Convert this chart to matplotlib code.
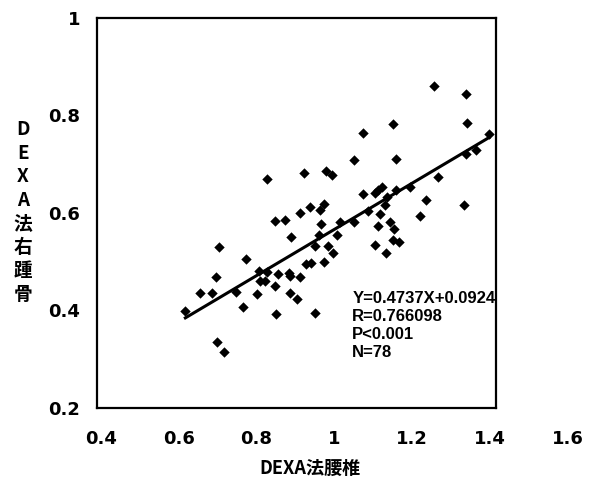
import matplotlib
matplotlib.use("Agg")
import matplotlib.pyplot as plt
import numpy as np

# DEXA lumbar spine (x) vs DEXA right calcaneus (y)
lumbar = [0.617, 0.655, 0.685, 0.695, 0.703, 0.699, 0.715, 0.747, 0.765, 0.774,
          0.801, 0.806, 0.826, 0.808, 0.821, 0.827, 0.846, 0.848, 0.849, 0.855,
          0.874, 0.883, 0.887, 0.888, 0.885, 0.904, 0.912, 0.912, 0.923, 0.926,
          0.940, 0.938, 0.951, 0.951, 0.960, 0.963, 0.965, 0.972, 0.972, 0.979,
          0.994, 0.983, 0.997, 1.006, 1.015, 1.049, 1.050, 1.073, 1.073, 1.085,
          1.103, 1.105, 1.113, 1.121, 1.113, 1.116, 1.130, 1.132, 1.134, 1.144,
          1.151, 1.151, 1.154, 1.158, 1.159, 1.165, 1.195, 1.221, 1.234, 1.257,
          1.265, 1.333, 1.337, 1.338, 1.340, 1.363, 1.397]
calc = [0.399, 0.435, 0.436, 0.469, 0.529, 0.335, 0.314, 0.438, 0.407, 0.505,
        0.434, 0.481, 0.479, 0.460, 0.461, 0.670, 0.583, 0.450, 0.392, 0.474,
        0.585, 0.476, 0.470, 0.550, 0.436, 0.423, 0.469, 0.599, 0.682, 0.495,
        0.498, 0.611, 0.533, 0.394, 0.555, 0.605, 0.577, 0.619, 0.500, 0.686,
        0.677, 0.533, 0.518, 0.555, 0.582, 0.708, 0.581, 0.764, 0.638, 0.604,
        0.535, 0.641, 0.647, 0.653, 0.572, 0.598, 0.616, 0.518, 0.633, 0.582,
        0.782, 0.544, 0.567, 0.647, 0.710, 0.540, 0.652, 0.594, 0.626, 0.860,
        0.673, 0.616, 0.720, 0.843, 0.785, 0.729, 0.761]

slope, intercept = 0.4737, 0.0924
stats = ["Y=0.4737X+0.0924", "R=0.766098", "P<0.001", "N=78"]

xticks = [0.4, 0.6, 0.8, 1.0, 1.2, 1.4, 1.6]
xticklabels = ["0.4", "0.6", "0.8", "1", "1.2", "1.4", "1.6"]
yticks = [0.2, 0.4, 0.6, 0.8, 1.0]
yticklabels = ["0.2", "0.4", "0.6", "0.8", "1"]

cjk = ["Noto Sans CJK JP", "DejaVu Sans"]

fig = plt.figure(figsize=(5.95, 4.82), dpi=100)
ax = fig.add_axes([97 / 595, 0.1535, 471 / 595, 0.810])

ax.scatter(lumbar, calc, marker="D", s=28, color="black", linewidths=0, zorder=3)

xs = np.array([min(lumbar), max(lumbar)])
ax.plot(xs, slope * xs + intercept, color="black", lw=2.2, zorder=2)

ax.set_xlim(0.39, 1.6)
ax.set_ylim(0.2, 1.0)

# plot frame only covers the left part of the x scale
right_edge = 1.415
for s in ["left", "right", "top", "bottom"]:
    ax.spines[s].set_linewidth(1.6)
ax.spines["right"].set_position(("data", right_edge))
ax.spines["top"].set_bounds(0.39, right_edge)
ax.spines["bottom"].set_bounds(0.39, right_edge)

ax.set_xticks(xticks)
ax.set_xticklabels(xticklabels)
ax.set_yticks(yticks)
ax.set_yticklabels(yticklabels)
ax.tick_params(axis="both", length=0, labelsize=13)
ax.tick_params(axis="x", pad=16)
ax.tick_params(axis="y", pad=12)
for lab in ax.get_xticklabels() + ax.get_yticklabels():
    lab.set_fontweight("bold")

ax.text(1.046, 0.44, "\n".join(stats), ha="left", va="top", fontsize=12,
        fontweight="bold", linespacing=1.25,
        family=["Liberation Sans", "DejaVu Sans"])

fig.text(310 / 595, 0.029, "DEXA法腰椎", ha="center", va="center",
         fontsize=13, fontweight="bold", family=cjk)
fig.text(23 / 595, 0.56, "\n".join("DEXA法右踵骨"), ha="center", va="center",
         fontsize=13.5, fontweight="bold", family=cjk, linespacing=1.3)

fig.savefig("out.png", dpi=100)
